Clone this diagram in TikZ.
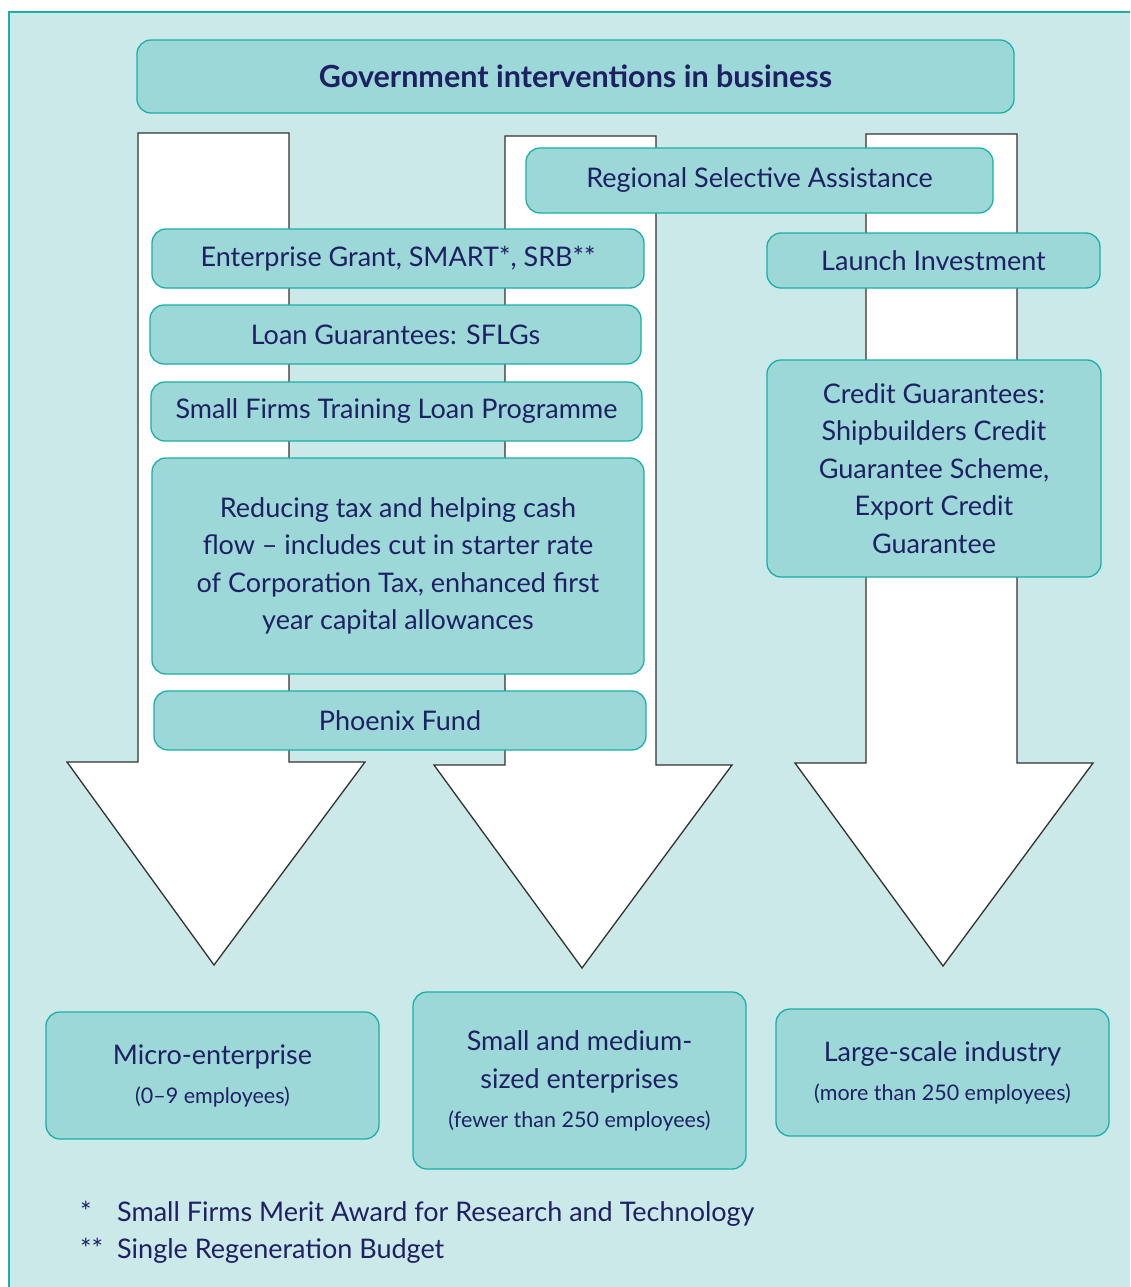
\documentclass[tikz,border=0pt]{standalone}
\usepackage{fontspec}
\setmainfont{Lato}
\definecolor{bgc}{RGB}{204,233,233}
\definecolor{boxc}{RGB}{157,216,216}
\definecolor{edgec}{RGB}{26,176,166}
\definecolor{navy}{RGB}{30,32,100}
\definecolor{arrowline}{RGB}{50,50,50}
\tikzset{
  box/.style={rounded corners=14pt, fill=boxc, draw=edgec, line width=1.3pt,
    text=navy, align=center, inner sep=0pt,
    font=\fontsize{27}{37.5}\selectfont},
  bigarrow/.style={fill=white, draw=arrowline, line width=1.3pt, line join=miter},
  foot/.style={text=navy, anchor=base west, inner sep=0pt, font=\fontsize{27}{30}\selectfont}
}
\begin{document}
\begin{tikzpicture}[x=1pt,y=-1pt]
\useasboundingbox (0,0) rectangle (1130,1287);
\fill[white] (0,0) rectangle (1130,1287);
\fill[bgc] (9,12) rectangle (1130,1287);
\draw[edgec, line width=1.5pt] (9,1287) -- (9,12) -- (1130,12);

% big arrows
\filldraw[bigarrow] (138,133) -- (289,133) -- (289,762) -- (365,762) -- (214,965) -- (67,762) -- (138,762) -- cycle;
\filldraw[bigarrow] (505,136) -- (656,136) -- (656,765) -- (732,765) -- (582,968) -- (434,765) -- (505,765) -- cycle;
\filldraw[bigarrow] (866,134) -- (1017,134) -- (1017,763) -- (1093,763) -- (943,966) -- (795,763) -- (866,763) -- cycle;

% title
\node[box, minimum width=877pt, minimum height=73pt, font=\fontsize{30.5}{34}\selectfont\bfseries] (title) at (575.5,76.5) {Government interventions in business};

\node[box, minimum width=467pt, minimum height=65pt] (rsa) at (759.5,180.5) {Regional Selective Assistance};
\node[box, minimum width=492pt, minimum height=59pt] (eg) at (398,258.5) {Enterprise Grant, SMART*, SRB**};
\node[box, minimum width=333pt, minimum height=55pt] (li) at (933.5,260.5) {Launch Investment};
\node[box, minimum width=491pt, minimum height=59pt] (lg) at (395.5,334.5) {Loan Guarantees: SFLGs};
\node[box, minimum width=491pt, minimum height=59pt] (sft) at (396.5,411.5) {Small Firms Training Loan Programme};
\node[box, minimum width=492pt, minimum height=216pt] (tax) at (398,566) {Reducing tax and helping cash\\flow -- includes cut in starter rate\\of Corporation Tax, enhanced first\\year capital allowances};
\node[box, minimum width=492pt, minimum height=59pt] (phx) at (400,720.5) {Phoenix Fund};
\node[box, minimum width=334pt, minimum height=217pt] (cg) at (934,468.5) {Credit Guarantees:\\Shipbuilders Credit\\Guarantee Scheme,\\Export Credit\\Guarantee};

% bottom boxes
\node[box, minimum width=333pt, minimum height=127pt, font=\fontsize{27}{39}\selectfont] (micro) at (212.5,1075.5) {Micro-enterprise\\{\fontsize{21.5}{39}\selectfont (0--9 employees)}};
\node[box, minimum width=333pt, minimum height=177pt, font=\fontsize{27}{38.5}\selectfont] (sme) at (579.5,1080.5) {Small and medium-\\sized enterprises\\{\fontsize{21.5}{38.5}\selectfont (fewer than 250 employees)}};
\node[box, minimum width=333pt, minimum height=127pt, font=\fontsize{27}{39}\selectfont] (large) at (942.5,1072.5) {Large-scale industry\\{\fontsize{21.5}{39}\selectfont (more than 250 employees)}};

% footnotes
\node[foot] (f1) at (80,1221) {\makebox[37pt][l]{*}Small Firms Merit Award for Research and Technology};
\node[foot] (f2) at (80,1258) {\makebox[37pt][l]{**}Single Regeneration Budget};
\end{tikzpicture}
\end{document}
